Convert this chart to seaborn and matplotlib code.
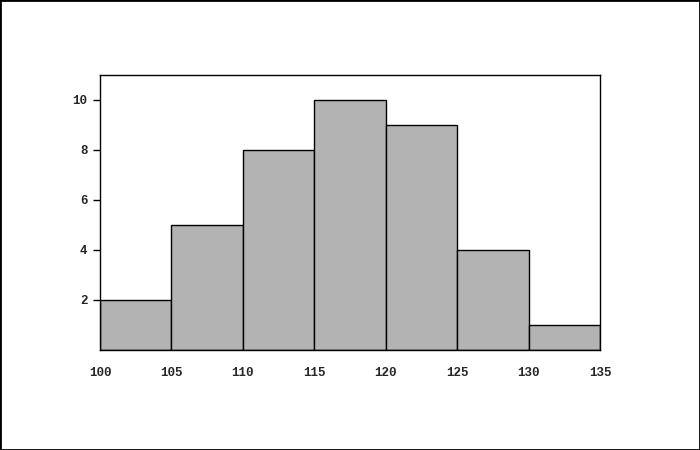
import matplotlib
matplotlib.use("Agg")
import matplotlib.pyplot as plt
import seaborn as sns
import numpy as np
from matplotlib.patches import Rectangle

bin_edges = [100, 105, 110, 115, 120, 125, 130, 135]
bin_starts = [100, 105, 110, 115, 120, 125, 130]
counts = [2, 5, 8, 10, 9, 4, 1]
x_ticks = [100, 105, 110, 115, 120, 125, 130, 135]
y_ticks = [2, 4, 6, 8, 10]

sns.set_style("white")
plt.rcParams['font.family'] = ['Liberation Mono', 'DejaVu Sans Mono']

fig = plt.figure(figsize=(7, 4.5), dpi=100)
ax = fig.add_axes([100/700, 1-350/450, 500/700, 275/450])

sns.histplot(x=bin_starts, weights=counts, bins=bin_edges, ax=ax,
             color="#b3b3b3", edgecolor="black", linewidth=1.0, alpha=1.0)

ax.set_xlim(100, 135)
ax.set_ylim(0, 11)
ax.set_xticks(x_ticks)
ax.set_xticklabels([str(v) for v in x_ticks], fontsize=9, fontweight="bold")
ax.set_yticks(y_ticks)
ax.set_yticklabels([str(v) for v in y_ticks], fontsize=9, fontweight="bold")
ax.tick_params(axis="x", length=0, pad=12)
ax.tick_params(axis="y", length=5, width=1, color="black", pad=4, left=True)
ax.set_xlabel("")
ax.set_ylabel("")
for s in ax.spines.values():
    s.set_color("black")
    s.set_linewidth(1.0)

fig.patches.append(Rectangle((0, 0), 1, 1, transform=fig.transFigure,
                             fill=False, edgecolor="black", linewidth=2))

fig.savefig("out.png", dpi=100)
